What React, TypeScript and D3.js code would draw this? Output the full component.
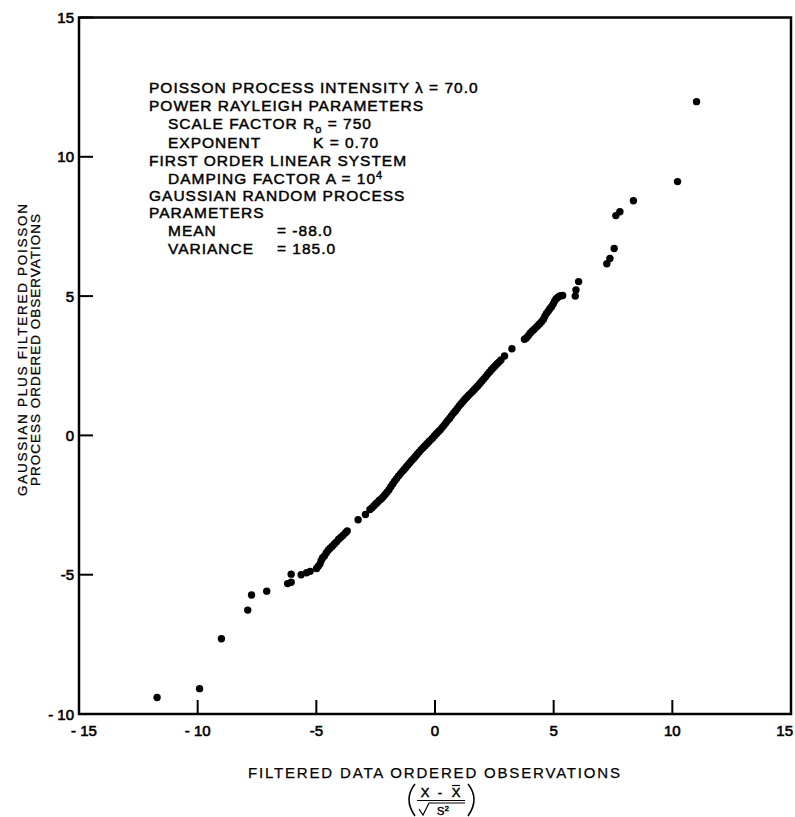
import React from "react";
import * as d3 from "d3";

// ---- data ----
const tailLowX = [-11.71, -9.92, -9.0, -7.89, -7.73, -7.09, -6.21, -6.06, -6.06, -5.64, -5.41, -5.26, -4.99];
const tailLowY = [-9.41, -9.09, -7.3, -6.27, -5.73, -5.59, -5.32, -5.27, -4.98, -5.0, -4.93, -4.88, -4.78];

const lowBandX = [-4.92, -4.85, -4.8, -4.74, -4.66, -4.58, -4.5, -4.42, -4.33, -4.24, -4.15, -4.06, -3.97, -3.88, -3.78, -3.7, -3.24, -2.93];
const lowBandY = [-4.7, -4.62, -4.5, -4.4, -4.33, -4.22, -4.12, -4.05, -3.98, -3.9, -3.82, -3.73, -3.66, -3.59, -3.5, -3.43, -3.03, -2.84];

const midBandX = [-2.74, -2.66, -2.58, -2.5, -2.42, -2.34, -2.26, -2.18, -2.1, -2.02, -1.94, -1.86, -1.78, -1.7, -1.62, -1.54, -1.46, -1.38, -1.3, -1.22, -1.14, -1.06, -0.98, -0.9, -0.82, -0.74, -0.66, -0.58, -0.5, -0.42, -0.34, -0.26, -0.18, -0.1, -0.02, 0.06, 0.14, 0.22, 0.3, 0.38, 0.46, 0.54, 0.62, 0.7, 0.78, 0.86, 0.94, 1.02, 1.1, 1.18, 1.26, 1.34, 1.42, 1.5, 1.58, 1.66, 1.74, 1.82, 1.9, 1.98, 2.06, 2.14, 2.22, 2.3, 2.38, 2.46, 2.54, 2.62, 2.7, 2.78, 2.93, 3.24];
const midBandY = [-2.66, -2.6, -2.53, -2.46, -2.4, -2.33, -2.27, -2.2, -2.12, -2.04, -1.95, -1.84, -1.74, -1.64, -1.55, -1.46, -1.38, -1.3, -1.22, -1.14, -1.06, -0.98, -0.9, -0.83, -0.75, -0.67, -0.59, -0.51, -0.44, -0.37, -0.3, -0.23, -0.16, -0.09, -0.01, 0.06, 0.13, 0.2, 0.28, 0.36, 0.45, 0.54, 0.62, 0.71, 0.8, 0.88, 0.97, 1.06, 1.14, 1.22, 1.3, 1.37, 1.44, 1.51, 1.58, 1.65, 1.72, 1.79, 1.87, 1.95, 2.03, 2.11, 2.2, 2.28, 2.36, 2.43, 2.5, 2.57, 2.64, 2.71, 2.85, 3.11];

const highBandX = [3.77, 3.85, 3.93, 4.01, 4.09, 4.17, 4.25, 4.33, 4.41, 4.49, 4.57, 4.63, 4.7, 4.77, 4.84, 4.91, 4.98, 5.04, 5.1, 5.17, 5.24, 5.31, 5.38];
const highBandY = [3.45, 3.5, 3.58, 3.67, 3.74, 3.8, 3.87, 3.94, 4.01, 4.08, 4.17, 4.28, 4.38, 4.46, 4.55, 4.62, 4.72, 4.82, 4.9, 4.95, 5.0, 5.01, 5.02];

const tailHighX = [5.91, 5.94, 6.05, 7.24, 7.37, 7.55, 7.62, 7.79, 8.36, 10.22, 11.02];
const tailHighY = [5.0, 5.22, 5.52, 6.16, 6.35, 6.71, 7.89, 8.03, 8.42, 9.11, 11.98];

const xTicks = [-15, -10, -5, 0, 5, 10, 15];
const xTickLabels = ["- 15", "- 10", "-5", "0", "5", "10", "15"];
const yTicks = [-10, -5, 0, 5, 10, 15];
const yTickLabels = ["- 10", "-5", "0", "5", "10", "15"];

const yTitleLines = ["GAUSSIAN PLUS FILTERED POISSON", "PROCESS ORDERED OBSERVATIONS"];
const xTitle = "FILTERED DATA ORDERED OBSERVATIONS";

const FONT = "'Liberation Sans', Arial, Helvetica, sans-serif";

export default function App() {
  const x = d3.scaleLinear().domain([-15, 15]).range([79, 791]);
  const y = d3.scaleLinear().domain([-10, 15]).range([714, 17.5]);

  const pts: [number, number][] = [];
  const add = (xs: number[], ys: number[]) => xs.forEach((v, i) => pts.push([v, ys[i]]));
  add(tailLowX, tailLowY);
  add(lowBandX, lowBandY);
  add(midBandX, midBandY);
  add(highBandX, highBandY);
  add(tailHighX, tailHighY);

  const x0 = x(-15), x1 = x(15), y0 = y(-10), y1 = y(15);
  const tickLen = 14;

  const txt = { fontFamily: FONT, fill: "#000", stroke: "#000", strokeWidth: 0.45 } as const;

  const annX = 149;
  const annX2 = 168;
  const ann = { ...txt, fontSize: 15.5, letterSpacing: 1 };

  const nX = xTicks.length;

  return (
    <svg width={795} height={817} style={{ position: "absolute", left: 0, top: 0, background: "#fff" }}>
      <rect x={0} y={0} width={795} height={817} fill="#fff" />
      {/* frame */}
      <rect x={x0} y={y1} width={x1 - x0} height={y0 - y1} fill="none" stroke="#000" strokeWidth={2.5} />
      {/* y ticks */}
      {yTicks.map((t, i) => (
        <g key={"yt" + t}>
          <line x1={x0} x2={x0 + tickLen} y1={y(t)} y2={y(t)} stroke="#000" strokeWidth={2} />
          <text x={74} y={y(t) + 5.5} textAnchor="end" fontSize={15} {...txt} strokeWidth={0.6}>{yTickLabels[i]}</text>
        </g>
      ))}
      {/* x ticks */}
      {xTicks.map((t, i) => (
        <g key={"xt" + t}>
          <line x1={x(t)} x2={x(t)} y1={y0} y2={y0 - tickLen} stroke="#000" strokeWidth={2} />
          <text
            x={i === 0 ? x(t) - 8 : i === nX - 1 ? 793 : x(t)}
            y={736}
            textAnchor={i === 0 ? "start" : i === nX - 1 ? "end" : "middle"}
            fontSize={15} {...txt} strokeWidth={0.6}>{xTickLabels[i]}</text>
        </g>
      ))}
      {/* points */}
      {pts.map((p, i) => (
        <circle key={i} cx={x(p[0])} cy={y(p[1])} r={3.7} fill="#000" />
      ))}
      {/* y title */}
      {yTitleLines.map((l, i) => (
        <text key={l} transform={`translate(${27 + i * 13},${350}) rotate(-90)`} textAnchor="middle" fontSize={13.5}
          textLength={i === 0 ? 292 : 272} lengthAdjust="spacing" {...txt} strokeWidth={0.25}>{l}</text>
      ))}
      {/* x title */}
      <text x={434} y={778} textAnchor="middle" fontSize={15} textLength={372} lengthAdjust="spacing" {...txt} strokeWidth={0.25}>{xTitle}</text>
      {/* formula */}
      <g>
        <path d="M415,784 Q403,799 415,816" fill="none" stroke="#000" strokeWidth={1.6} />
        <path d="M468,784 Q480,799 468,816" fill="none" stroke="#000" strokeWidth={1.6} />
        <text x={425} y={797} textAnchor="middle" fontSize={13} {...txt}>X</text>
        <text x={440} y={797} textAnchor="middle" fontSize={13} {...txt}>-</text>
        <text x={456} y={797} textAnchor="middle" fontSize={13} {...txt}>X</text>
        <line x1={452} x2={460} y1={785.5} y2={785.5} stroke="#000" strokeWidth={1.2} />
        <line x1={417} x2={465} y1={800.5} y2={800.5} stroke="#000" strokeWidth={1.2} />
        <path d="M419,809 L423,815 L429,803 L465,803" fill="none" stroke="#000" strokeWidth={1.2} />
        <text x={443} y={815} textAnchor="middle" fontSize={11} {...txt}>S<tspan dy={-4} fontSize={8}>2</tspan></text>
      </g>
      {/* annotation */}
      <g>
        <text x={annX} y={93} {...ann}>POISSON PROCESS INTENSITY λ = 70.0</text>
        <text x={annX} y={111} {...ann}>POWER RAYLEIGH PARAMETERS</text>
        <text x={annX2} y={129} {...ann}>SCALE FACTOR R<tspan dy={4} fontSize={11}>o</tspan><tspan dy={-4}> = 750</tspan></text>
        <text x={annX2} y={148} {...ann}>EXPONENT<tspan x={313}>K = 0.70</tspan></text>
        <text x={annX} y={166} {...ann}>FIRST ORDER LINEAR SYSTEM</text>
        <text x={annX2} y={184} {...ann}>DAMPING FACTOR A = 10<tspan dy={-5} fontSize={11}>4</tspan></text>
        <text x={annX} y={201} {...ann}>GAUSSIAN RANDOM PROCESS</text>
        <text x={annX} y={218} {...ann}>PARAMETERS</text>
        <text x={annX2} y={236} {...ann}>MEAN<tspan x={277}>= -88.0</tspan></text>
        <text x={annX2} y={254} {...ann}>VARIANCE<tspan x={277}>= 185.0</tspan></text>
      </g>
    </svg>
  );
}
